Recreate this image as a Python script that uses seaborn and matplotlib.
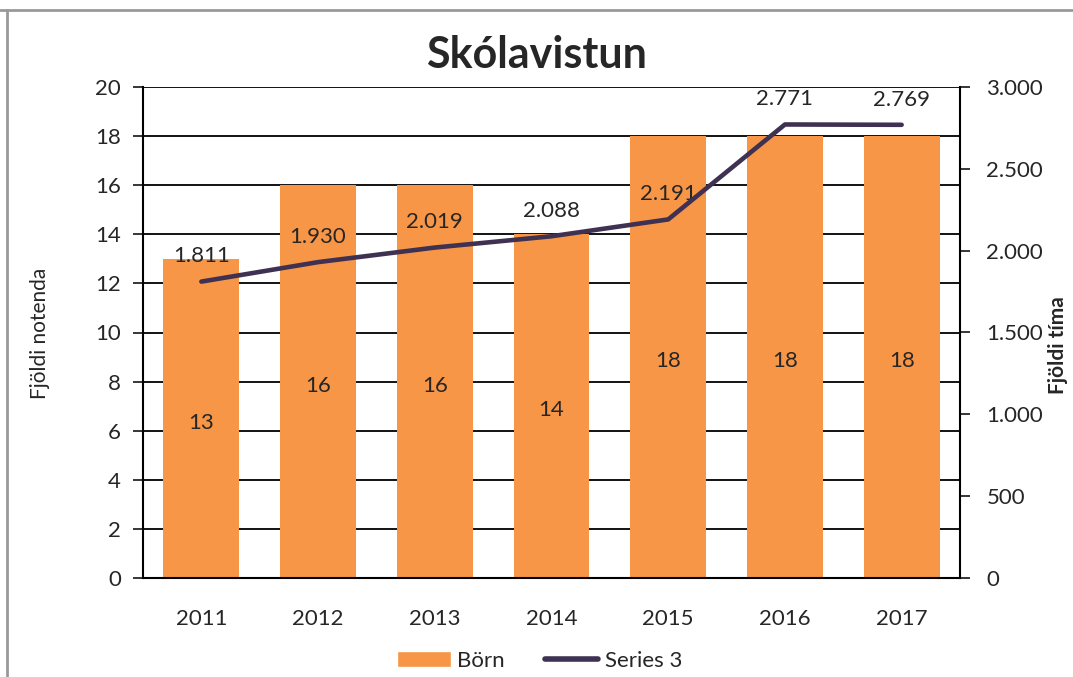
import matplotlib
matplotlib.use("Agg")
import matplotlib.pyplot as plt
import seaborn as sns
import pandas as pd
from matplotlib.lines import Line2D
from matplotlib.patches import Patch

# data
years = ["2011", "2012", "2013", "2014", "2015", "2016", "2017"]
born = [13, 16, 16, 14, 18, 18, 18]
timar = [1811, 1930, 2019, 2088, 2191, 2771, 2769]
timar_labels = ["1.811", "1.930", "2.019", "2.088", "2.191", "2.771", "2.769"]
left_ticks = [0, 2, 4, 6, 8, 10, 12, 14, 16, 18, 20]
right_ticks = [0, 500, 1000, 1500, 2000, 2500, 3000]
right_tick_labels = ["0", "500", "1.000", "1.500", "2.000", "2.500", "3.000"]

BAR_COLOR = "#F79646"
LINE_COLOR = "#3F3151"

sns.set_style("white")
plt.rcParams["font.family"] = ["Lato", "DejaVu Sans"]

df = pd.DataFrame({"year": years, "born": born, "timar": timar})

fig = plt.figure(figsize=(10.73, 6.77), dpi=100)
ax = fig.add_axes([143 / 1073, 1 - 578 / 677, (960 - 143) / 1073, (578 - 87) / 677])

# gridlines behind bars
ax.set_axisbelow(True)
ax.yaxis.grid(True, color="black", linewidth=1.3)

sns.barplot(data=df, x="year", y="born", color=BAR_COLOR, saturation=1,
            width=0.65, linewidth=0, ax=ax, zorder=2)
ax.set_ylim(0, 20)
ax.set_xlim(-0.5, len(years) - 0.5)
ax.set_yticks(left_ticks)
ax.set_xlabel("")
ax.set_ylabel("")
ax.tick_params(axis="y", labelsize=16, direction="out", length=7, width=1.3, pad=9)
ax.tick_params(axis="x", labelsize=16, length=0, pad=22)
# category boundary ticks on x axis
ax.set_xticks([i - 0.5 for i in range(len(years) + 1)], minor=True)
ax.tick_params(axis="x", which="minor", direction="out", length=7, width=1.3)

for s in ["top", "right"]:
    ax.spines[s].set_visible(False)
for s in ["left", "bottom"]:
    ax.spines[s].set_color("black")
    ax.spines[s].set_linewidth(1.5)

for i, v in enumerate(born):
    ax.annotate(str(v), (i, v / 2), xytext=(0, -3), textcoords="offset points",
                ha="center", va="center", fontsize=16, zorder=5)

# secondary axis for hours
ax2 = ax.twinx()
sns.lineplot(x=list(range(len(years))), y=timar, color=LINE_COLOR, linewidth=3.3,
             ax=ax2, zorder=4)
ax2.set_ylim(0, 3000)
ax2.set_xlim(-0.5, len(years) - 0.5)
ax2.set_yticks(right_ticks)
ax2.set_yticklabels(right_tick_labels)
ax2.tick_params(axis="y", labelsize=16, direction="out", length=7, width=1.3, pad=12)
ax2.set_ylabel("")
for s in ["top", "left", "bottom"]:
    ax2.spines[s].set_visible(False)
ax2.spines["right"].set_color("black")
ax2.spines["right"].set_linewidth(1.5)

for i, (v, lab) in enumerate(zip(timar, timar_labels)):
    ax2.annotate(lab, (i, v), xytext=(0, 11), textcoords="offset points",
                 ha="center", va="bottom", fontsize=16)

# axis titles
fig.text(40 / 1073, 1 - 333 / 677, "Fjöldi notenda", rotation=90, ha="center",
         va="center", fontsize=15)
fig.text(1058 / 1073, 1 - 345 / 677, "Fjöldi tíma", rotation=90, ha="center",
         va="center", fontsize=15, fontweight="bold")

fig.text(0.5, 1 - 55 / 677, "Skólavistun", ha="center", va="center",
         fontsize=31, fontweight="bold")

handles = [Patch(facecolor=BAR_COLOR, label="Börn"),
           Line2D([0], [0], color=LINE_COLOR, linewidth=4, label="Series 3")]
fig.legend(handles=handles, loc="center", bbox_to_anchor=(0.503, 1 - 661 / 677),
           ncol=2, frameon=False, fontsize=16, handlelength=2.4,
           columnspacing=1.8, handletextpad=0.3)

# outer chart border
fig.add_artist(Line2D([0, 1], [1 - 10 / 677, 1 - 10 / 677], transform=fig.transFigure,
                      color="#999999", linewidth=2))
fig.add_artist(Line2D([7 / 1073, 7 / 1073], [0, 1 - 10 / 677], transform=fig.transFigure,
                      color="#999999", linewidth=2))

fig.savefig("out.png", dpi=100)
